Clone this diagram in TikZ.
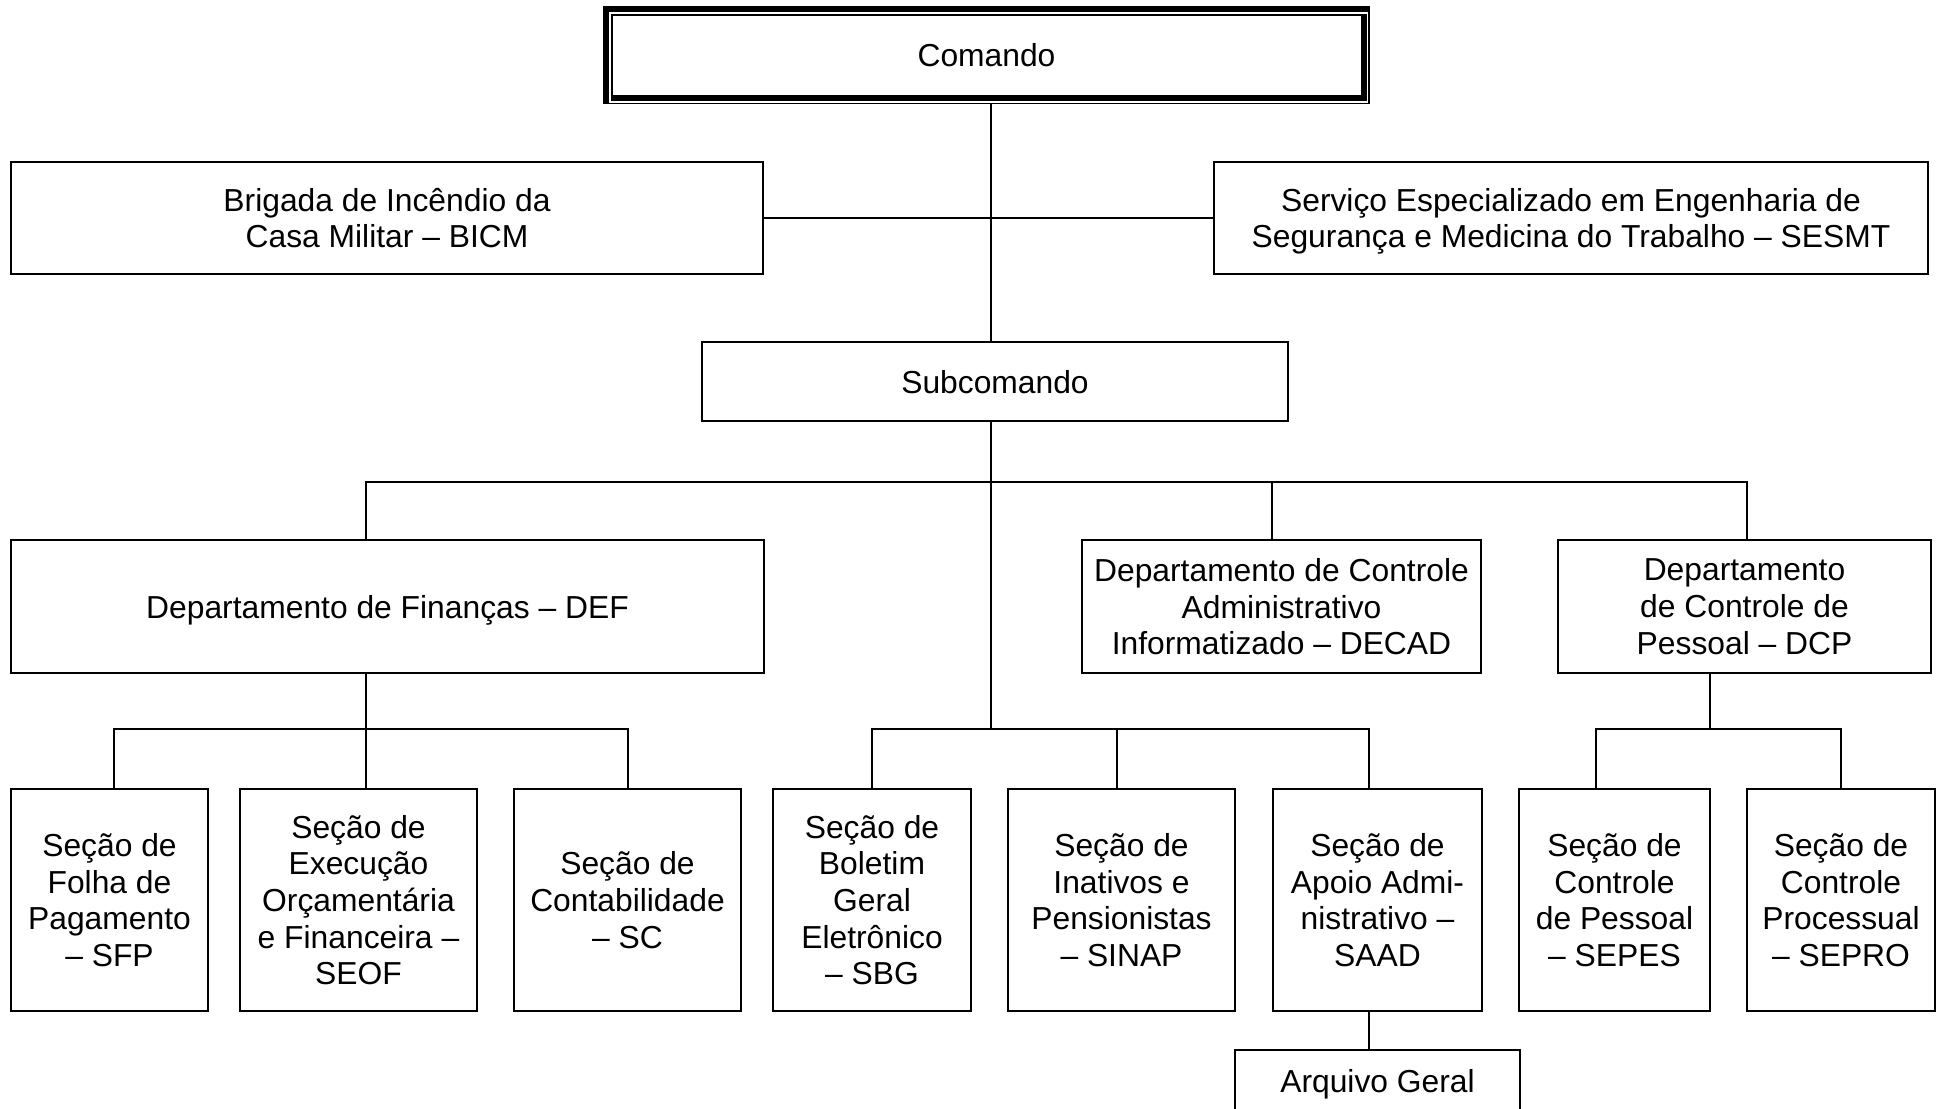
\documentclass[tikz,border=0pt]{standalone}
\usepackage{fontspec}
\setmainfont{Liberation Sans}
\begin{document}
\begin{tikzpicture}[x=0.5pt,y=-0.5pt,
  box/.style={draw, line width=0.9pt, rectangle, inner sep=0pt, align=center,
    text depth=0pt, font=\fontsize{15.9}{18.3}\selectfont},
  link/.style={line width=0.8pt},
  frame/.style={fill=black, draw=none}]
\useasboundingbox (0,0) rectangle (1937,1108);

% Comando with thick-thin frame
\node[box, draw=none, minimum width=382.5pt, minimum height=48pt] (comando) at (986.5,55) {Comando};
\fill[frame] (603,6) rectangle (1370,12);
\fill[frame] (603,6) rectangle (609,104);
\fill[frame] (603,102.5) rectangle (1370,104);
\fill[frame] (1368,6) rectangle (1370,104);
\fill[frame] (611,14) rectangle (1361,16);
\fill[frame] (611,14) rectangle (613,101);
\fill[frame] (611,95) rectangle (1367,101);
\fill[frame] (1361,14) rectangle (1367,101);

\node[box, minimum width=376pt, minimum height=56pt] (bicm) at (387,218)
  {Brigada de Incêndio da\\Casa Militar – BICM};
\node[box, minimum width=357pt, minimum height=56pt] (sesmt) at (1571,218)
  {Serviço Especializado em Engenharia de\\Segurança e Medicina do Trabalho – SESMT};
\node[box, minimum width=293pt, minimum height=39.5pt] (sub) at (995,381.5) {Subcomando};

\node[box, minimum width=376.5pt, minimum height=66.5pt] (def) at (387.5,606.5)
  {Departamento de Finanças – DEF};
\node[box, minimum width=199.5pt, minimum height=66.5pt] (decad) at (1281.5,606.5)
  {Departamento de Controle\\Administrativo\\Informatizado – DECAD};
\node[box, minimum width=186.5pt, minimum height=66.5pt] (dcp) at (1744.5,606.5)
  {Departamento\\de Controle de\\Pessoal – DCP};

\node[box, minimum width=98.5pt, minimum height=111pt] (sfp) at (109.5,900)
  {Seção de\\Folha de\\Pagamento\\– SFP};
\node[box, minimum width=118.5pt, minimum height=111pt] (seof) at (358.5,900)
  {Seção de\\Execução\\Orçamentária\\e Financeira –\\SEOF};
\node[box, minimum width=113.5pt, minimum height=111pt] (sc) at (627.5,900)
  {Seção de\\Contabilidade\\– SC};
\node[box, minimum width=99pt, minimum height=111pt] (sbg) at (872,900)
  {Seção de\\Boletim\\Geral\\Eletrônico\\– SBG};
\node[box, minimum width=113.5pt, minimum height=111pt] (sinap) at (1121.5,900)
  {Seção de\\Inativos e\\Pensionistas\\– SINAP};
\node[box, minimum width=104.5pt, minimum height=111pt] (saad) at (1377.5,900)
  {Seção de\\Apoio Admi-\\nistrativo –\\SAAD};
\node[box, minimum width=95.5pt, minimum height=111pt] (sepes) at (1614.5,900)
  {Seção de\\Controle\\de Pessoal\\– SEPES};
\node[box, minimum width=94pt, minimum height=111pt] (sepro) at (1841,900)
  {Seção de\\Controle\\Processual\\– SEPRO};
\node[box, minimum width=142.5pt, minimum height=31pt] (arq) at (1377.5,1081) {Arquivo Geral};

% helper coordinates
\coordinate (tx) at (991,0);
\coordinate (b1) at (0,482);
\coordinate (b2) at (0,729);
\coordinate (xdef) at (366,0);
\coordinate (xdecad) at (1272,0);
\coordinate (xdcp) at (1747,0);
\coordinate (xdcpd) at (1710,0);
\coordinate (xsfp) at (114,0);
\coordinate (xsc) at (628,0);
\coordinate (xsbg) at (872,0);
\coordinate (xsinap) at (1117,0);
\coordinate (xsaad) at (1369,0);
\coordinate (xsepes) at (1596,0);
\coordinate (xsepro) at (1841,0);

% connectors
\draw[link] (tx |- comando.south) -- (tx |- sub.north);
\draw[link] (bicm.east) -- (sesmt.west);
\draw[link] (tx |- sub.south) -- (tx |- b2);
\draw[link] (xdef |- def.north) -- (xdef |- b1) -- (xdcp |- b1) -- (xdcp |- dcp.north);
\draw[link] (xdecad |- b1) -- (xdecad |- decad.north);

\draw[link] (xdef |- def.south) -- (xdef |- seof.north);
\draw[link] (xsfp |- sfp.north) -- (xsfp |- b2) -- (xsc |- b2) -- (xsc |- sc.north);

\draw[link] (xsbg |- sbg.north) -- (xsbg |- b2) -- (xsaad |- b2) -- (xsaad |- saad.north);
\draw[link] (xsinap |- b2) -- (xsinap |- sinap.north);

\draw[link] (xdcpd |- dcp.south) -- (xdcpd |- b2);
\draw[link] (xsepes |- sepes.north) -- (xsepes |- b2) -- (xsepro |- b2) -- (xsepro |- sepro.north);

\draw[link] (xsaad |- saad.south) -- (xsaad |- arq.north);
\end{tikzpicture}
\end{document}
